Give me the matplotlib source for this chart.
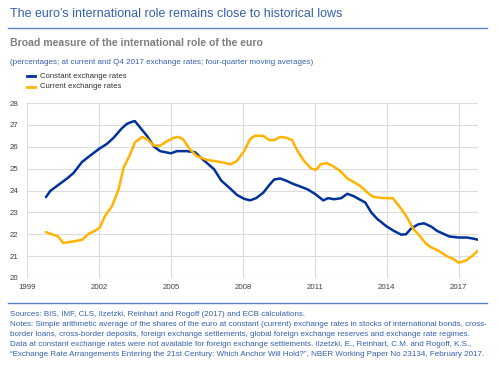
"""
Broad measure of the international role of the euro (ECB chart recreation).
"""

import matplotlib
matplotlib.use("Agg")
from matplotlib import pyplot as plt
from matplotlib.lines import Line2D

TITLE = "The euro\u2019s international role remains close to historical lows"
SUBTITLE = "Broad measure of the international role of the euro"
UNITS = "(percentages; at current and Q4 2017 exchange rates; four-quarter moving averages)"
SERIES_NAMES = ["Constant exchange rates", "Current exchange rates"]
NOTES = [
    "Sources: BIS, IMF, CLS, Ilzetzki, Reinhart and Rogoff (2017) and ECB calculations.",
    "Notes: Simple arithmetic average of the shares of the euro at constant (current) exchange rates in stocks of international bonds, cross-",
    "border loans, cross-border deposits, foreign exchange settlements, global foreign exchange reserves and exchange rate regimes.",
    "Data at constant exchange rates were not available for foreign exchange settlements. Ilzetzki, E., Reinhart, C.M. and Rogoff, K.S.,",
    "\u201cExchange Rate Arrangements Entering the 21st Century: Which Anchor Will Hold?\u201d, NBER Working Paper No 23134, February 2017.",
]

X_TICKS = [1999, 2002, 2005, 2008, 2011, 2014, 2017]
Y_TICKS = [20, 21, 22, 23, 24, 25, 26, 27, 28]

constant_x = [1999.79, 1999.97, 2000.3, 2000.67, 2000.94, 2001.29, 2001.64, 2002.0, 2002.33,
              2002.6, 2002.96, 2003.17, 2003.4, 2003.5, 2003.7, 2004.0, 2004.3, 2004.55,
              2005.0, 2005.25, 2005.65, 2006.0, 2006.35, 2006.8, 2007.1, 2007.5, 2007.75,
              2008.05, 2008.3, 2008.55, 2008.85, 2009.1, 2009.3, 2009.55, 2009.8, 2010.1,
              2010.35, 2010.7, 2011.0, 2011.35, 2011.55, 2011.8, 2012.1, 2012.35, 2012.6,
              2012.85, 2013.1, 2013.35, 2013.6, 2014.0, 2014.3, 2014.6, 2014.8, 2015.0,
              2015.3, 2015.55, 2015.85, 2016.1, 2016.4, 2016.6, 2017.0, 2017.35, 2017.6,
              2017.8]
constant_y = [23.7, 23.98, 24.25, 24.55, 24.8, 25.3, 25.6, 25.9, 26.13,
              26.4, 26.85, 27.05, 27.15, 27.17, 26.9, 26.5, 26.0, 25.8,
              25.7, 25.8, 25.8, 25.75, 25.4, 24.97, 24.45, 24.06, 23.8,
              23.62, 23.55, 23.65, 23.9, 24.25, 24.5, 24.55, 24.45, 24.3,
              24.2, 24.05, 23.85, 23.55, 23.65, 23.6, 23.65, 23.85, 23.75,
              23.6, 23.45, 23.0, 22.7, 22.35, 22.15, 21.98, 22.0, 22.25,
              22.45, 22.5, 22.35, 22.15, 22.0, 21.9, 21.85, 21.85, 21.8,
              21.75]

current_x = [1999.79, 2000.04, 2000.3, 2000.5, 2000.8, 2001.08, 2001.3, 2001.57, 2001.85,
             2002.03, 2002.26, 2002.55, 2002.82, 2003.03, 2003.3, 2003.5, 2003.8, 2004.0,
             2004.3, 2004.55, 2004.83, 2005.1, 2005.3, 2005.5, 2005.8, 2006.07, 2006.5,
             2006.8, 2007.2, 2007.5, 2007.75, 2008.05, 2008.3, 2008.5, 2008.85, 2009.1,
             2009.3, 2009.55, 2009.85, 2010.05, 2010.28, 2010.55, 2010.85, 2011.05, 2011.25,
             2011.5, 2011.75, 2012.1, 2012.35, 2012.6, 2012.9, 2013.25, 2013.45, 2013.9,
             2014.25, 2014.5, 2014.8, 2015.1, 2015.35, 2015.65, 2015.85, 2016.15, 2016.5,
             2016.8, 2017.0, 2017.3, 2017.55, 2017.8]
current_y = [22.1, 22.0, 21.9, 21.6, 21.65, 21.7, 21.75, 22.02, 22.17,
             22.3, 22.85, 23.3, 24.06, 25.05, 25.65, 26.2, 26.45, 26.35,
             26.05, 26.05, 26.25, 26.4, 26.45, 26.35, 25.87, 25.58, 25.4,
             25.35, 25.27, 25.2, 25.35, 25.8, 26.35, 26.5, 26.5, 26.3,
             26.3, 26.45, 26.4, 26.3, 25.8, 25.35, 25.0, 24.95, 25.2,
             25.25, 25.12, 24.85, 24.55, 24.4, 24.2, 23.85, 23.7, 23.65,
             23.65, 23.3, 22.85, 22.25, 21.95, 21.55, 21.4, 21.25, 21.0,
             20.85, 20.7, 20.8, 21.0, 21.25]

BLUE = "#003299"
ORANGE = "#ffb400"
TEXT_BLUE = "#3560b0"
GREY = "#7f7f7f"

plt.rcParams['font.family'] = ['Liberation Sans', 'DejaVu Sans']

fig = plt.figure(figsize=(4.99, 3.71), dpi=100)

# header
fig.text(10 / 499, 1 - 14 / 371, TITLE, color=TEXT_BLUE, fontsize=9.0, va="center")
fig.add_artist(Line2D([8 / 499, 487 / 499], [1 - 28 / 371] * 2, color="#5b7fc7", lw=1.0))
fig.text(10 / 499, 1 - 43 / 371, SUBTITLE, color=GREY, fontsize=7.6, fontweight="bold", va="center")
fig.text(10 / 499, 1 - 62 / 371, UNITS, color=TEXT_BLUE, fontsize=5.8, va="center")

# legend drawn by hand so it sits where the original has it
for i, (name, col) in enumerate(zip(SERIES_NAMES, [BLUE, ORANGE])):
    yy = 1 - (76 + 11 * i) / 371
    fig.add_artist(Line2D([27 / 499, 35 / 499], [yy, yy], color=col, lw=2))
    fig.text(40 / 499, yy, name, fontsize=5.6, color="#333333", va="center")

ax = fig.add_axes([27 / 499, 1 - 278 / 371, (478 - 27) / 499, (278 - 103) / 371])
ax.plot(constant_x, constant_y, color=BLUE, lw=1.8, solid_capstyle="round")
ax.plot(current_x, current_y, color=ORANGE, lw=1.8, solid_capstyle="round")

ax.set_xlim(1999, 2017.8)
ax.set_ylim(20, 28)
ax.set_xticks(X_TICKS)
ax.set_yticks(Y_TICKS)
ax.grid(True, color="#dcdcdc", lw=0.8)
ax.set_axisbelow(True)
for s in ax.spines.values():
    s.set_visible(False)
ax.tick_params(length=0, labelsize=5.7, labelcolor="#404040")
ax.tick_params(axis="y", pad=6)
ax.tick_params(axis="x", pad=4)

# footer
fig.add_artist(Line2D([8 / 499, 487 / 499], [1 - 303 / 371] * 2, color="#5b7fc7", lw=1.0))
for i, line in enumerate(NOTES):
    fig.text(10 / 499, 1 - (315 + 9.8 * i) / 371, line, fontsize=5.75, color=TEXT_BLUE, va="center")

fig.savefig("out.png", dpi=100)
